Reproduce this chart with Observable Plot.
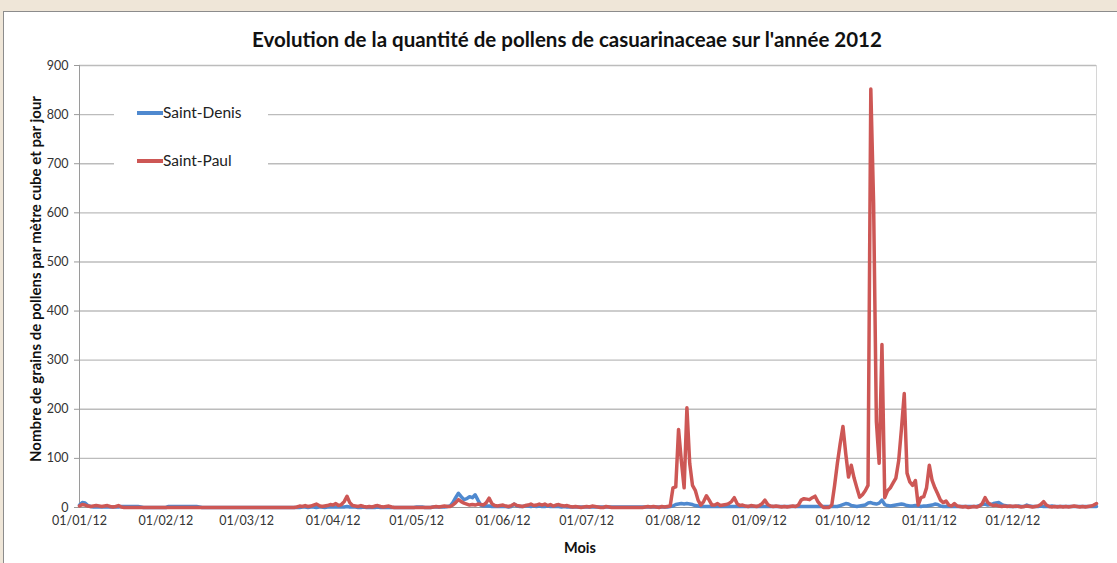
<!DOCTYPE html>
<html><head><meta charset="utf-8">
<script src="https://cdn.jsdelivr.net/npm/d3@7"></script>
<script src="https://cdn.jsdelivr.net/npm/@observablehq/plot@0.6"></script>
<style>
body{margin:0;background:#efe6d8;width:1117px;height:563px;overflow:hidden;position:relative;font-family:Lato,"Open Sans",sans-serif;}
#panel{position:absolute;left:3px;top:11px;width:1130px;height:570px;background:#fff;border:1px solid #8c8c8c;}
#chart{position:absolute;left:0;top:0;}
#title{position:absolute;left:0;width:1134px;top:27px;text-align:center;font-weight:700;font-size:20.5px;color:#111;white-space:nowrap;}
#xlabel{position:absolute;left:580px;top:547px;transform:translate(-50%,-50%);font-weight:700;font-size:14.5px;color:#111;}
#ylabel{position:absolute;left:35px;top:279px;transform:translate(-50%,-50%) rotate(-90deg);font-weight:700;font-size:15px;color:#111;white-space:nowrap;}
#legend{position:absolute;left:114px;top:95px;width:154px;height:86px;background:#fff;}
.item{position:absolute;left:23px;height:18px;line-height:18px;font-size:15.5px;color:#222;white-space:nowrap;}
.sw{display:inline-block;width:26px;height:3.5px;vertical-align:middle;margin-right:0px;position:relative;top:-1px;}
</style></head>
<body>
<div id="panel"></div>
<div id="chart"></div>
<div id="title">Evolution de la quantité de pollens de casuarinaceae sur l'année 2012</div>
<div id="xlabel">Mois</div>
<div id="ylabel">Nombre de grains de pollens par mètre cube et par jour</div>
<div id="legend"></div>
<script>
// Tick labels (dd/mm/yy)
const tickLabels = ["01/01/12","01/02/12","01/03/12","01/04/12","01/05/12","01/06/12","01/07/12","01/08/12","01/09/12","01/10/12","01/11/12","01/12/12"];
const yTicks = [0,100,200,300,400,500,600,700,800,900];
const seriesNames = ["Saint-Denis","Saint-Paul"];
const seriesColors = ["#4f89cf","#cd5755"];

// Daily values, one array per month (2012, leap year)
const saintPaul = [
  [3,6,5,3,2,3,4,3,2,3,4,2,1,2,4,1,0,0,0,0,0,0,0,0,0,0,0,0,0,0,0],
  [0,0,0,0,0,0,0,0,0,0,0,0,0,0,0,0,0,0,0,0,0,0,0,0,0,0,0,0,0],
  [0,0,0,0,0,0,0,0,0,0,0,0,0,0,0,0,0,0,1,3,2,4,2,3,5,7,4,2,3,4,6],
  [5,8,4,6,12,23,10,4,3,2,4,2,1,2,1,3,4,2,1,2,3,1,0,0,0,0,0,0,0,0],
  [0,0,0,0,0,0,1,2,1,2,3,2,2,5,10,16,12,9,7,5,6,5,7,6,5,10,19,8,4,3,4],
  [5,3,2,4,7,4,3,2,4,5,7,4,5,7,5,7,4,6,3,5,6,4,3,4,2,1,2,1,0,1],
  [2,1,3,2,1,0,0,2,1,0,0,0,0,0,0,0,0,0,0,0,0,1,2,1,2,1,0,2,1,2,3],
  [40,42,159,95,40,203,90,45,35,15,5,12,24,15,5,5,8,4,5,6,8,12,20,8,4,5,3,2,4,3,2],
  [4,8,15,6,3,2,3,2,1,2,1,2,3,2,5,15,18,17,16,20,23,12,5,0,0,0,5,45,90,130],
  [165,110,62,86,60,40,21,26,34,45,852,620,175,90,332,20,34,40,50,60,95,160,232,70,52,45,55,5,20,22,40],
  [86,55,40,28,15,10,13,5,3,8,3,2,1,2,0,1,2,1,3,8,20,10,6,4,5,3,2,3,2,3],
  [2,3,2,1,2,3,2,1,2,3,6,12,5,2,1,2,1,2,1,2,1,2,3,2,1,2,1,2,3,5,8]
];
const saintDenis = [
  [5,10,9,4,2,1,1,1,1,1,1,1,1,1,1,2,2,2,2,2,2,2,1,0,0,0,0,0,0,0,0],
  [0,2,2,2,2,2,2,2,2,2,2,2,1,0,0,0,0,0,0,0,0,0,0,0,0,0,0,0,0],
  [0,0,0,0,0,0,0,0,0,0,0,0,0,0,0,0,0,0,0,0,1,1,0,1,1,0,1,1,0,1,1],
  [1,1,1,1,1,2,1,1,1,0,0,1,0,0,0,0,1,0,0,0,0,0,0,0,0,0,0,0,0,0],
  [1,1,1,0,0,0,1,1,1,1,1,2,3,10,20,29,22,16,18,22,20,26,15,5,3,3,3,2,2,2,2],
  [2,2,1,2,7,3,2,2,3,3,2,3,2,3,2,2,3,2,2,2,2,1,2,1,1,1,1,1,1,1],
  [1,1,1,1,1,1,1,1,1,1,1,1,1,1,1,1,1,1,1,1,1,1,1,1,1,1,1,1,1,1,2],
  [3,6,7,8,7,8,7,6,4,3,2,2,2,2,2,2,2,2,2,2,2,2,2,2,2,2,2,2,2,2,2],
  [2,2,2,2,2,2,2,2,2,2,2,2,2,2,2,2,2,2,2,2,2,2,2,2,2,2,2,2,2,4],
  [6,8,7,4,3,2,3,4,5,9,10,8,7,9,15,6,4,3,4,5,6,7,6,4,3,3,4,3,2,3,3],
  [4,5,7,6,3,2,2,2,2,2,2,2,2,2,2,2,2,2,4,6,7,5,6,8,9,10,6,4,3,2],
  [2,2,3,2,2,5,3,2,2,2,3,2,2,2,3,2,2,2,2,2,2,2,2,2,2,2,2,2,2,2,2]
];

const parse = d3.utcParse("%d/%m/%y");
const fmt = d3.utcFormat("%d/%m/%y");
const tickDates = tickLabels.map(parse);
function toRows(months){
  const rows = [];
  months.forEach((vals, m) => vals.forEach((v, i) => rows.push({date: new Date(Date.UTC(2012, m, i + 1)), value: v})));
  return rows;
}
const denisRows = toRows(saintDenis);
const paulRows = toRows(saintPaul);
const start = denisRows[0].date, end = denisRows[denisRows.length - 1].date;

const chart = Plot.plot({
  width: 1117, height: 563,
  marginLeft: 79, marginRight: 21, marginTop: 65, marginBottom: 56,
  style: {background: "transparent", fontFamily: "Lato, 'Open Sans', sans-serif", fontSize: "12.5px", color: "#333", overflow: "visible"},
  x: {type: "utc", domain: [start, end]},
  y: {domain: [0, 900]},
  marks: [
    Plot.gridY(yTicks.filter(v => v > 0), {stroke: "#bcbcbc", strokeOpacity: 1, strokeWidth: 1.4}),
    Plot.frame({anchor: "right", stroke: "#d6d6d6"}),
    Plot.frame({anchor: "left", stroke: "#9a9a9a"}),
    Plot.frame({anchor: "bottom", stroke: "#9a9a9a"}),
    Plot.axisY({ticks: yTicks, tickSize: 5, tickPadding: 6, stroke: "#9a9a9a", fill: "#333", label: null}),
    Plot.axisX({ticks: tickDates, tickSize: 0, tickPadding: 9, tickFormat: fmt, fill: "#333", label: null}),
    Plot.line(denisRows, {x: "date", y: "value", stroke: seriesColors[0], strokeWidth: 3.5, strokeLinejoin: "round"}),
    Plot.line(paulRows, {x: "date", y: "value", stroke: seriesColors[1], strokeWidth: 3.5, strokeLinejoin: "round"})
  ]
});
document.getElementById("chart").appendChild(chart);

const legend = document.getElementById("legend");
seriesNames.forEach((name, i) => {
  const it = document.createElement("div");
  it.className = "item";
  it.style.top = (8 + i * 48) + "px";
  it.innerHTML = `<span class="sw" style="background:${seriesColors[i]}"></span>${name}`;
  legend.appendChild(it);
});
</script>
</body></html>
